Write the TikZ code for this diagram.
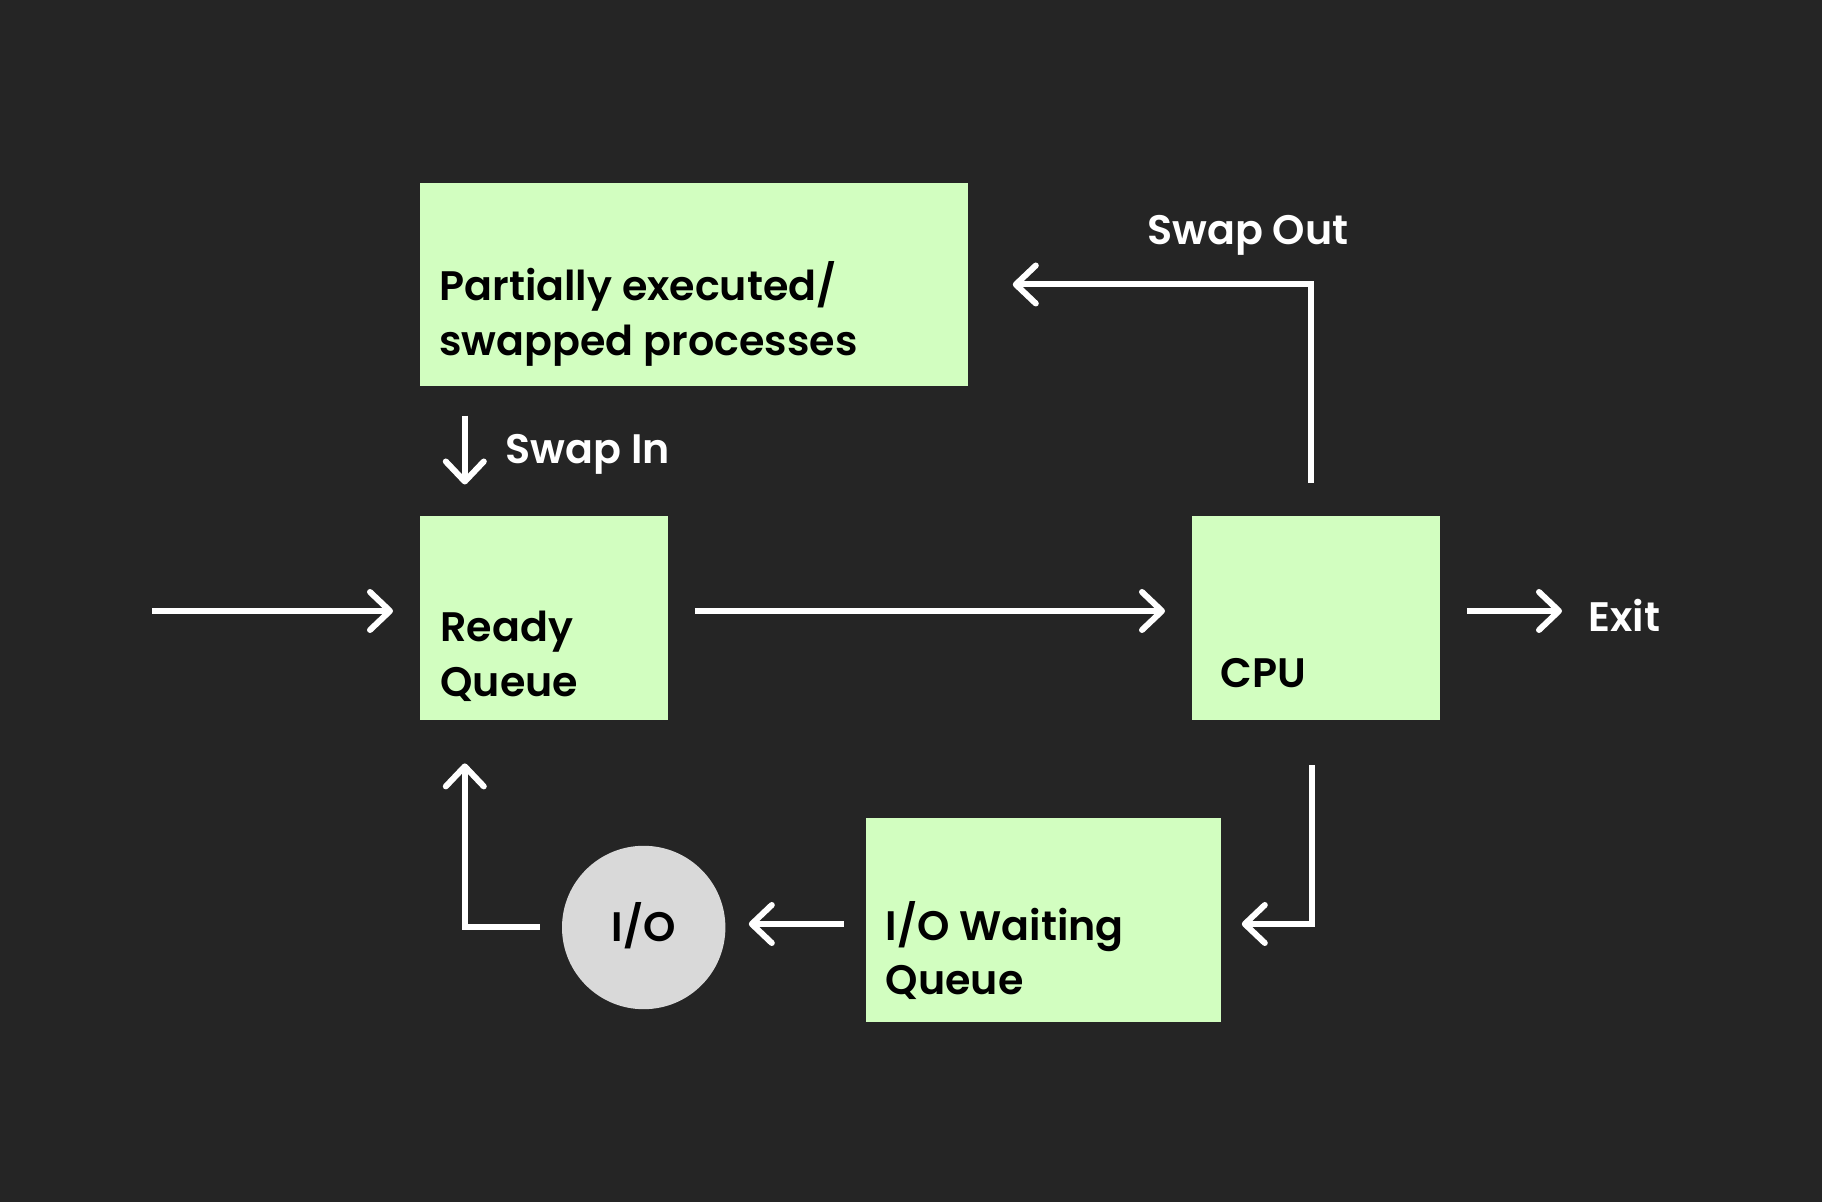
\documentclass[tikz,border=0pt]{standalone}
\usepackage{fontspec}
\setmainfont{Poppins SemiBold}
\usetikzlibrary{arrows.meta}
\definecolor{bg}{HTML}{252525}
\definecolor{boxgreen}{HTML}{D2FEC0}
\definecolor{iogray}{HTML}{D9D9D9}
\begin{document}
\begin{tikzpicture}[x=0.5pt,y=-0.5pt,
  box/.style={fill=boxgreen, draw=none, inner sep=0pt, anchor=north west},
  boxtext/.style={inner sep=0pt, anchor=base west, align=left, text=black, font=\fontsize{20.6}{27.5}\selectfont},
  lbl/.style={inner sep=0pt, anchor=base west, text=white, font=\fontsize{20.6}{27.5}\selectfont},
  arr/.style={draw=white, line width=3pt, -{Straight Barb[length=10pt,width=19pt,round]}},
]
\fill[bg] (0,0) rectangle (1822,1202);
\useasboundingbox (0,0) rectangle (1822,1202);
% boxes
\node[box, minimum width=274.25pt, minimum height=101.7pt] (partial) at (419.5,182.4) {};
\node[box, minimum width=124pt, minimum height=102pt] (ready) at (420,516) {};
\node[box, minimum width=124pt, minimum height=101.7pt] (cpu) at (1192,516) {};
\node[box, minimum width=177.65pt, minimum height=101.75pt] (iow) at (865.7,818) {};
\node[circle, fill=iogray, draw=none, inner sep=0pt, minimum size=81.7pt] (io) at (643.7,927.5) {};
% texts
\node[boxtext] (partialtxt) at (439,355.7) {Partially executed/\\swapped processes};
\node[boxtext] (readytxt) at (440,696.7) {Ready\\Queue};
\node[boxtext] (cputxt) at (1220,688) {CPU};
\node[boxtext] (iowtxt) at (885.5,995) {I/O Waiting\\Queue};
\node[boxtext, anchor=base] (iotxt) at (643.7,941.5) {I/O};
% labels
\node[lbl] (swapout) at (1147,245) {Swap Out};
\node[lbl] (swapin) at (505.5,464) {Swap In};
\node[lbl] (exit) at (1588,632) {Exit};
% helper coordinates
\coordinate (in) at (152,611);
\coordinate (ay) at (0,611);
\coordinate (sx) at (464.8,0);
\coordinate (ly) at (0,924);
\coordinate (ry) at (0,927.5);
% connectors
\draw[arr, shorten >=13.5pt] (in) -- (ready.west |- ay);
\draw[arr, shorten <=13pt, shorten >=13.5pt] (ready.east |- ay) -- (cpu.west |- ay);
\draw[arr, shorten <=13pt, shorten >=13pt] (cpu.east |- ay) -- (exit.west |- ay);
\draw[arr, shorten <=16.5pt, shorten >=22pt] ([xshift=-2.65pt]cpu.north) |- (partial.east);
\draw[arr, shorten <=14.5pt, shorten >=15.75pt] (partial.south -| sx) -- (ready.north -| sx);
\draw[arr, shorten <=22.5pt, shorten >=10pt] ([xshift=-2pt]cpu.south) |- (iow.east |- ly);
\draw[arr, shorten <=11pt, shorten >=11.5pt] (iow.west |- ly) -- (io.east |- ly);
\draw[arr, shorten <=11pt, shorten >=21.3pt] (io.west |- ry) -| (ready.south -| sx);
\end{tikzpicture}
\end{document}
